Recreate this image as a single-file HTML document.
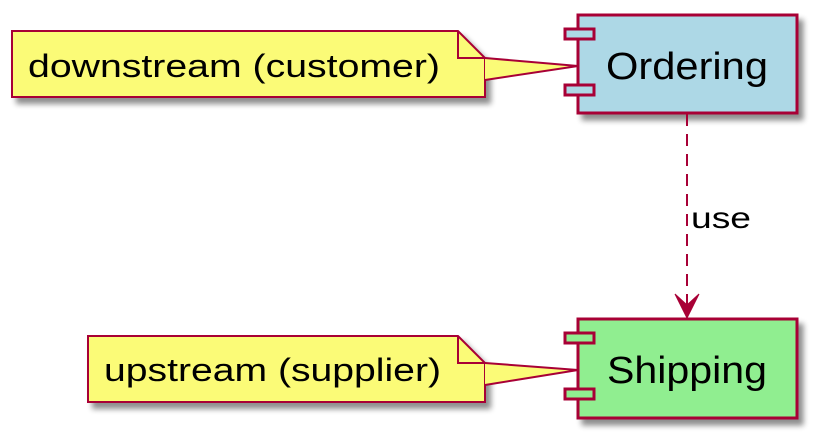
<!DOCTYPE html>
<html><head><meta charset="utf-8"><style>
html,body{margin:0;padding:0;background:#fff;width:827px;height:448px;overflow:hidden}
text{font-family:"Liberation Sans",sans-serif}
</style></head><body>
<svg width="827" height="448" viewBox="0 0 827 448" xmlns="http://www.w3.org/2000/svg">
<defs><filter id="sh" x="-10%" y="-10%" width="130%" height="140%"><feGaussianBlur in="SourceAlpha" stdDeviation="3"/><feOffset dx="5" dy="6"/><feComponentTransfer><feFuncA type="linear" slope="0.45"/></feComponentTransfer><feMerge><feMergeNode/><feMergeNode in="SourceGraphic"/></feMerge></filter></defs>
<g stroke="#A80036" stroke-width="3">
<g filter="url(#sh)">
<path d="M12,31 H458 L485,58 V97 H12 Z" fill="#FBFB77" stroke-width="2"/>
</g>
<path d="M458,31 V58 H485" fill="none" stroke-width="2"/>
<path d="M485,58 L578,66 L485,80" fill="#FBFB77" stroke-width="2"/>
<g filter="url(#sh)">
<path d="M88,336 H458 L485,363 V402 H88 Z" fill="#FBFB77" stroke-width="2"/>
</g>
<path d="M458,336 V363 H485" fill="none" stroke-width="2"/>
<path d="M485,363 L578,370 L485,385" fill="#FBFB77" stroke-width="2"/>
<g filter="url(#sh)"><rect x="578" y="15" width="219" height="98" fill="#ADD8E6"/></g>
<rect x="565" y="29" width="29" height="10" fill="#ADD8E6"/>
<rect x="565" y="85" width="29" height="10" fill="#ADD8E6"/>
<g filter="url(#sh)"><rect x="578" y="319" width="219" height="99" fill="#90EE90"/></g>
<rect x="565" y="333" width="29" height="10" fill="#90EE90"/>
<rect x="565" y="389" width="29" height="10" fill="#90EE90"/>
<line x1="687" y1="114" x2="687" y2="314" stroke-dasharray="12,8" stroke-width="2"/>
<path d="M675,294 L687,318 L699,294 L687,305 Z" fill="#A80036" stroke-width="1"/>
</g>
<text x="28" y="77" font-size="32" fill="#000" textLength="412" lengthAdjust="spacingAndGlyphs">downstream (customer)</text>
<text x="104" y="381" font-size="32" fill="#000" textLength="337" lengthAdjust="spacingAndGlyphs">upstream (supplier)</text>
<text x="606" y="79" font-size="38" fill="#000" textLength="162" lengthAdjust="spacingAndGlyphs">Ordering</text>
<text x="607" y="383" font-size="38" fill="#000" textLength="160" lengthAdjust="spacingAndGlyphs">Shipping</text>
<text x="691" y="228" font-size="30" fill="#000" textLength="60" lengthAdjust="spacingAndGlyphs">use</text>
</svg>
</body></html>
